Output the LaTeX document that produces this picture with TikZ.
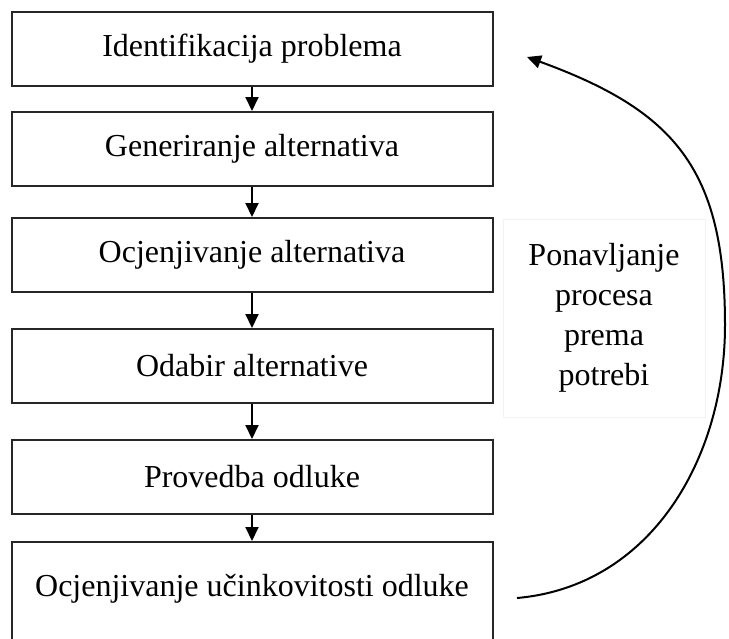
\documentclass[tikz,border=0pt]{standalone}
\usepackage{fontspec}
\setmainfont{Liberation Serif}
\usetikzlibrary{arrows.meta}
\begin{document}
\begin{tikzpicture}[x=1pt, y=1pt, line width=2pt,
  korak/.style={draw=black!85, minimum width=481pt, minimum height=74pt,
    inner sep=0pt, font=\fontsize{32}{38}\selectfont},
  strelica/.style={-{Triangle[width=13pt,length=14pt]}}]
  \useasboundingbox (0,0) rectangle (729,-638);
  \clip (0,0) rectangle (729,-638);
  \pgfmathsetmacro{\sredina}{252}
  %
  \node[korak] (k1) at (\sredina,-49) {Identifikacija problema};
  \node[korak] (k2) at (\sredina,-149) {Generiranje alternativa};
  \node[korak] (k3) at (\sredina,-255) {Ocjenjivanje alternativa};
  \node[korak] (k4) at (\sredina,-366) {Odabir alternative};
  \node[korak] (k5) at (\sredina,-477) {Provedba odluke};
  \node[korak, minimum height=104pt, text depth=18pt] (k6) at (\sredina,-594)
    {Ocjenjivanje učinkovitosti odluke};
  \foreach \a/\b in {k1/k2,k2/k3,k3/k4,k4/k5,k5/k6} {
    \draw[strelica] (\a) -- (\b);
  }
  %
  \node[draw=black!5, line width=1pt, minimum width=202pt, minimum height=198pt,
    align=center, font=\fontsize{32}{40}\selectfont] (ponavljanje) at (604,-318)
    {Ponavljanje\\procesa\\prema\\potrebi};
  \coordinate (pocetak) at (517,-598);
  \coordinate (kraj) at (527,-57);
  \draw[strelica] (pocetak) to[out=5, in=-90] (725,-325)
    to[out=90, in=-20, looseness=1.2] (kraj);
\end{tikzpicture}
\end{document}
